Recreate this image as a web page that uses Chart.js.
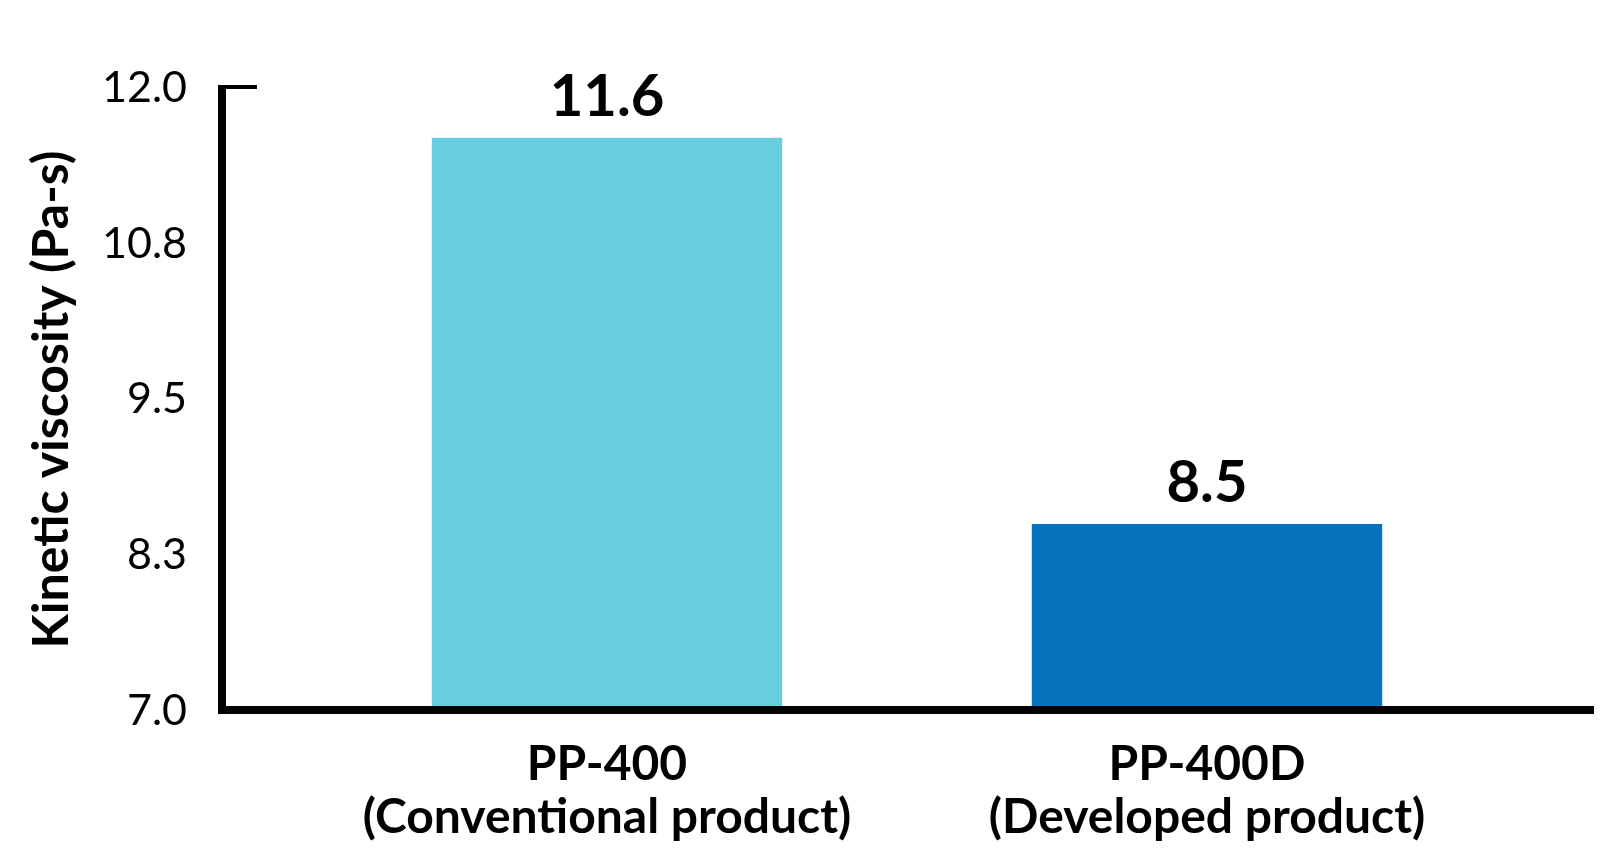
<!DOCTYPE html>
<html>
<head>
<meta charset="utf-8">
<script src="https://cdn.jsdelivr.net/npm/chart.js@4"></script>
<style>
  html, body { margin: 0; padding: 0; background: #fff; }
  #wrap { width: 1600px; height: 848px; position: relative; }
</style>
</head>
<body>
<div id="wrap"><canvas id="grafico"></canvas></div>
<script>
const categorias = [
  ["PP-400", "(Conventional product)"],
  ["PP-400D", "(Developed product)"],
];
const viscosidade = [11.6, 8.5];
const coresBarras = ["#68cfe0", "#0472bc"];
const yMin = 7.0;
const yMax = 12.0;
const yPasso = 1.25;
const tituloY = "Kinetic viscosity (Pa-s)";

const FONTE = "Lato, 'Noto Sans', sans-serif";

// eixos em L com uma pequena "tampa" no topo, como no original
const eixosPlugin = {
  id: "eixos",
  afterDatasetsDraw(chart) {
    const { ctx, scales } = chart;
    const yTopo = scales.y.getPixelForValue(yMax);
    const yBase = scales.y.getPixelForValue(yMin);
    const xEixo = chart.chartArea.left - 85;

    ctx.save();
    ctx.fillStyle = "#000";
    ctx.fillRect(xEixo - 4, yTopo - 3, 8, yBase - yTopo + 6);
    ctx.fillRect(xEixo - 4, yTopo - 3, 39, 4);
    ctx.fillRect(xEixo - 4, yBase - 5, chart.width - 6 - (xEixo - 4), 8);
    ctx.restore();
  },
};

const rotulosPlugin = {
  id: "rotulos",
  afterDatasetsDraw(chart) {
    const { ctx } = chart;
    const meta = chart.getDatasetMeta(0);
    ctx.save();
    ctx.fillStyle = "#000";
    ctx.font = `bold 58px ${FONTE}`;
    ctx.textAlign = "center";
    ctx.textBaseline = "alphabetic";
    meta.data.forEach((barra, i) => {
      ctx.fillText(viscosidade[i].toFixed(1), barra.x, barra.y - 22);
    });
    ctx.restore();
  },
};

const config = {
  type: "bar",
  data: {
    labels: categorias,
    datasets: [
      {
        data: viscosidade,
        backgroundColor: coresBarras,
        borderWidth: 0,
        categoryPercentage: 1,
        barPercentage: 0.584,
      },
    ],
  },
  options: {
    responsive: true,
    maintainAspectRatio: false,
    animation: false,
    layout: { padding: { top: 88, right: 93, left: 0, bottom: 0 } },
    plugins: {
      legend: { display: false },
      title: { display: false },
      tooltip: { enabled: false },
    },
    scales: {
      x: {
        grid: { display: false },
        border: { display: false },
        ticks: {
          color: "#000",
          padding: 19,
          font: { family: FONTE, size: 48, weight: "bold", lineHeight: 1.1 },
        },
        afterFit: (s) => {
          s.height = 137;
        },
      },
      y: {
        min: yMin,
        max: yMax,
        grid: { display: false },
        border: { display: false },
        ticks: {
          stepSize: yPasso,
          color: "#000",
          padding: 112,
          font: { family: FONTE, size: 43, weight: "normal" },
          callback: (v) => Number(v).toFixed(1),
        },
        title: {
          display: true,
          text: tituloY,
          color: "#000",
          padding: { top: 22, bottom: 0 },
          font: { family: FONTE, size: 50, weight: "bold", lineHeight: 1.2 },
        },
        afterFit: (s) => {
          // o padding dos ticks tambem entra no topo/base; nao queremos isso
          s.width = 307;
          s.paddingTop = 0;
          s.paddingBottom = 0;
        },
      },
    },
  },
  plugins: [eixosPlugin, rotulosPlugin],
};

new Chart(document.getElementById("grafico"), config);
</script>
</body>
</html>
